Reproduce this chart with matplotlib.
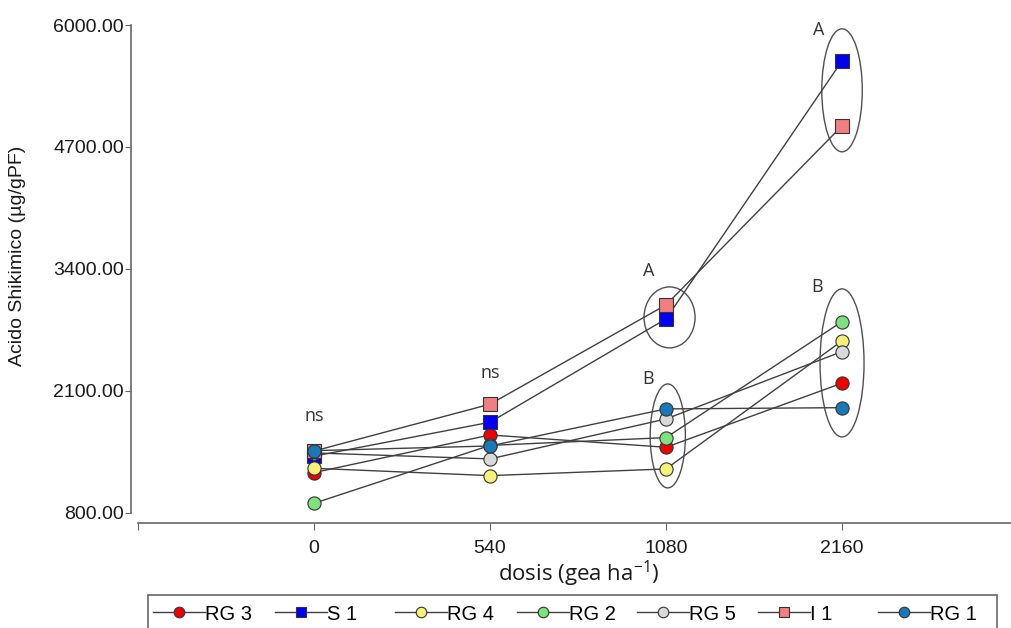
import numpy as np
import matplotlib.pyplot as plt
from matplotlib.patches import Ellipse, Rectangle

# doses (categorical x axis)
doses = ['0', '540', '1080', '2160']

# shikimic acid per biotype
rg3 = [1230, 1631, 1500, 2183]
s1 = [1405, 1767, 2868, 5618]
rg4 = [1276, 1198, 1269, 2634]
rg2 = [903, 1520, 1603, 2839]
rg5 = [1440, 1376, 1802, 2520]
i1 = [1460, 1959, 3017, 4925]
rg1 = [1464, 1514, 1909, 1922]

series = [
    ('RG 3', rg3, 'o', '#ee0000'),
    ('S 1', s1, 's', '#0000ee'),
    ('RG 4', rg4, 'o', '#f6f07c'),
    ('RG 2', rg2, 'o', '#7ee07e'),
    ('RG 5', rg5, 'o', '#d9d9d9'),
    ('I 1', i1, 's', '#f08080'),
    ('RG 1', rg1, 'o', '#1b78b8'),
]

plt.rcParams['font.family'] = ['Liberation Sans', 'DejaVu Sans']
plt.rcParams['mathtext.default'] = 'regular'

fig = plt.figure(figsize=(10.11, 6.28), dpi=100)
ax = fig.add_axes([138 / 1011, 105 / 628, 873 / 1011, 498 / 628])

x = np.arange(len(doses))
for name, vals, mk, col in series:
    ax.plot(x, vals, color='#404040', lw=1.0, marker=mk, markersize=9.5,
            markerfacecolor=col, markeredgecolor='#333333', markeredgewidth=0.8,
            label=name)

# significance groups
groups = [
    (2.02, 2884, 0.29, 650),
    (3.0, 5304, 0.23, 1311),
    (3.0, 2399, 0.25, 1578),
    (2.01, 1621, 0.2, 1108),
]
for cx, cy, w, h in groups:
    ax.add_patch(Ellipse((cx, cy), w, h, fill=False, edgecolor='#505050', lw=1.0))

letters = [(0, 1830, 'ns'), (1, 2290, 'ns'), (1.9, 3380, 'A'), (1.9, 2230, 'B'),
           (2.87, 5950, 'A'), (2.86, 3210, 'B')]
for lx, ly, t in letters:
    ax.text(lx, ly, t, fontsize=13, family=['Open Sans', 'DejaVu Sans'],
            color='#333333', ha='center', va='center')

ax.set_xlim(-1, 3.96)
ax.set_ylim(693, 6000)
ax.set_xticks([-1, 0, 1, 2, 3])
ax.set_xticklabels([''] + doses)
ax.set_yticks([800, 2100, 3400, 4700, 6000])
ax.set_yticklabels(['800.00', '2100.00', '3400.00', '4700.00', '6000.00'])

for s in ['top', 'right']:
    ax.spines[s].set_visible(False)
ax.spines['left'].set_bounds(800, 6000)
ax.spines['left'].set_position(('outward', 5))
for s in ['left', 'bottom']:
    ax.spines[s].set_color('#666666')
    ax.spines[s].set_linewidth(1.2)
ax.tick_params(axis='both', colors='#666666', labelcolor='#1a1a1a', labelsize=14,
               length=5)
ax.tick_params(axis='y', length=4, pad=1)
ax.tick_params(axis='x', pad=7)

ax.set_ylabel('Acido Shikimico (µg/gPF)', fontsize=14, color='#1a1a1a')
ax.yaxis.set_label_coords(-0.128, 0.536)
ax.set_xlabel('dosis (gea ha$^{-1}$)', fontsize=16, family=['Open Sans', 'DejaVu Sans'],
              color='#1a1a1a')
ax.xaxis.set_label_coords(0.505, -0.072)

# legend: one entry per slot, inside a single frame
handles, labels = ax.get_legend_handles_labels()
slots = [153, 275, 395, 517, 637, 758, 878]
for h, l, px in zip(handles, labels, slots):
    fig.legend([h], [l], loc='center left', bbox_to_anchor=(px / 1011, 14 / 628),
               frameon=False, fontsize=14.5, handlelength=2.6, handletextpad=0.0,
               borderpad=0, borderaxespad=0, markerscale=0.8)
fig.add_artist(Rectangle((148 / 1011, -2 / 628), 849 / 1011, 35 / 628,
                         transform=fig.transFigure, fill=False,
                         edgecolor='#666666', lw=1.2))

fig.savefig('out.png', dpi=100)
